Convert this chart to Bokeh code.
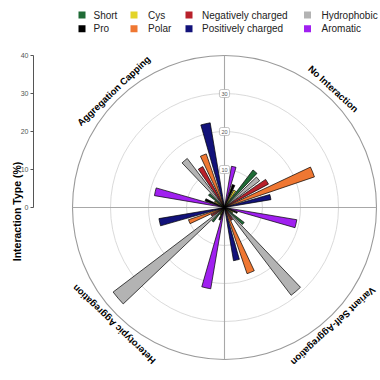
import math
from bokeh.plotting import figure
from bokeh.models import ColumnDataSource
from bokeh.core.properties import value
from bokeh.embed import file_html
from bokeh.resources import INLINE

# ---------------- data ----------------
interactions = ["No Interaction", "Variant Self-Aggregation",
                "Heterotypic Aggregation", "Aggregation Capping"]
# order of the dodged bars inside each quadrant (clockwise)
residues = ["Aromatic", "Pro", "Cys", "Short", "Hydrophobic",
            "Negatively charged", "Polar", "Positively charged"]

no_interaction = [11.0, 6.4, 5.2, 12.4, 11.6, 13.1, 25.0, 12.4]
variant_self   = [19.3, 3.6, 2.5, 6.5, 29.0, 3.8, 18.4, 14.2]
heterotypic    = [21.7, 3.5, 2.2, 4.8, 36.8, 4.0, 10.0, 17.5]
capping        = [18.7, 5.4, 3.0, 5.3, 16.2, 12.2, 14.9, 22.6]
values_by_quadrant = [no_interaction, variant_self, heterotypic, capping]

legend_labels = ["Short", "Pro", "Cys", "Polar", "Negatively charged",
                 "Positively charged", "Hydrophobic", "Aromatic"]
colors = {
    "Short": "#1F6B36", "Pro": "#000000", "Cys": "#E3D42A",
    "Polar": "#EF7732", "Negatively charged": "#B8212B",
    "Positively charged": "#12127A", "Hydrophobic": "#B3B3B3",
    "Aromatic": "#A020F0",
}
radial_ticks = [10, 20, 30]
axis_ticks = [0, 10, 20, 30, 40]
r_max = 40
axis_title = "Interaction Type (%)"

# ---------------- geometry ----------------
W, H = 380, 380
PX = 3.8                     # pixels per percent
CX, CY = 224, 207            # centre in figure pixels
SP, BW = 9.2, 6.4            # bar spacing / bar width (degrees)


def to_data(px, py):
    """figure pixel -> data coords"""
    return (px - CX) / PX, (CY - py) / PX


p = figure(width=W, height=H, output_backend="svg", toolbar_location=None,
           x_range=(-CX / PX, (W - CX) / PX), y_range=(-(H - CY) / PX, CY / PX),
           min_border=0, min_border_left=0, min_border_right=0,
           min_border_top=0, min_border_bottom=0)
p.axis.visible = False
p.grid.visible = False
p.outline_line_color = None
p.background_fill_color = "white"

# grid circles
p.circle(x=[0] * len(radial_ticks), y=[0] * len(radial_ticks), radius=radial_ticks,
         fill_color=None, line_color="#D6D6D6", line_width=0.9)
p.circle(x=[0], y=[0], radius=[r_max], fill_color=None,
         line_color="#9A9A9A", line_width=1.1)
# quadrant dividers
p.segment(x0=[-r_max, 0], y0=[0, -r_max], x1=[r_max, 0], y1=[0, r_max],
          line_color="#A8A8A8", line_width=1.1)

# bars
rows = dict(r=[], start=[], end=[], color=[])
for q, vals in enumerate(values_by_quadrant):
    for i, v in enumerate(vals):
        th = 90 * q + 45 + (i - 3.5) * SP
        rows["r"].append(v)
        rows["start"].append(math.radians(90 - th - BW / 2))
        rows["end"].append(math.radians(90 - th + BW / 2))
        rows["color"].append(colors[residues[i]])
src = ColumnDataSource(rows)
p.wedge(x=0, y=0, radius="r", start_angle="start", end_angle="end",
        direction="anticlock", fill_color="color",
        line_color="black", line_width=0.7, source=src)

# radial labels in boxes
p.text(x=[0] * len(radial_ticks), y=radial_ticks, text=[str(t) for t in radial_ticks],
       text_font=value("Liberation Sans"), text_font_size="5.5px",
       text_color="#555555", text_align="center", text_baseline="middle",
       background_fill_color="white", border_line_color="#AAAAAA",
       border_line_width=0.7, padding=2, border_radius=2)

# quadrant labels
lab_r = 42.4
lab_phi = [42.5, 137.5, 223.5, 316.5]
lx = [lab_r * math.sin(math.radians(f)) for f in lab_phi]
ly = [lab_r * math.cos(math.radians(f)) for f in lab_phi]
lang = [math.radians(-f) for f in lab_phi]
p.text(x=lx, y=ly, text=interactions, angle=lang,
       text_font=value("Liberation Sans"), text_font_style="bold",
       text_font_size="9.5px", text_color="black",
       text_align="center", text_baseline="middle")

# left axis
ax_x, _ = to_data(33, 0)
tick_len = 3 / PX
p.segment(x0=[ax_x], y0=[axis_ticks[0]], x1=[ax_x], y1=[axis_ticks[-1]],
          line_color="#555555", line_width=1)
p.segment(x0=[ax_x - tick_len] * len(axis_ticks), y0=axis_ticks,
          x1=[ax_x] * len(axis_ticks), y1=axis_ticks,
          line_color="#555555", line_width=1)
p.text(x=[ax_x - 5 / PX] * len(axis_ticks), y=axis_ticks,
       text=[str(t) for t in axis_ticks], text_font=value("Liberation Sans"),
       text_font_size="7px", text_color="#555555",
       text_align="right", text_baseline="middle")
tx, ty = to_data(16, 211)
p.text(x=[tx], y=[ty], text=[axis_title], angle=math.pi / 2,
       text_font=value("Liberation Sans"), text_font_style="bold",
       text_font_size="10.5px", text_color="black",
       text_align="center", text_baseline="middle")

# legend (4 columns x 2 rows)
sw_x = [81.5, 133.5, 188.5, 307]
tx_x = [93, 147.5, 201.5, 321]
row_y = [14.5, 28.3]
lg = dict(sx=[], sy=[], tx=[], ty=[], label=[], color=[])
for k, lab in enumerate(legend_labels):
    col, row = k // 2, k % 2
    sx, sy = to_data(sw_x[col], row_y[row])
    tx_, ty_ = to_data(tx_x[col], row_y[row])
    lg["sx"].append(sx); lg["sy"].append(sy)
    lg["tx"].append(tx_); lg["ty"].append(ty_)
    lg["label"].append(lab); lg["color"].append(colors[lab])
lsrc = ColumnDataSource(lg)
p.rect(x="sx", y="sy", width=7, height=7, width_units="screen",
       height_units="screen", fill_color="color", line_color=None, source=lsrc)
p.text(x="tx", y="ty", text="label", text_font=value("Liberation Sans"),
       text_font_size="10px", text_color="#222222", text_align="left",
       text_baseline="middle", source=lsrc)

open("out.html", "w").write(file_html(p, INLINE))
